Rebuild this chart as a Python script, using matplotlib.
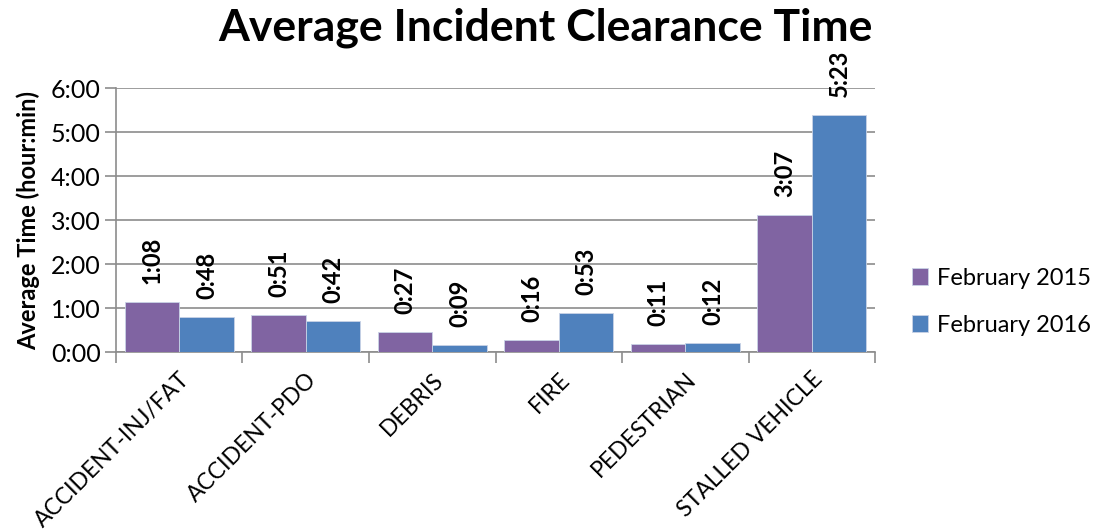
import matplotlib
matplotlib.use('Agg')
import matplotlib.pyplot as plt
import numpy as np

plt.rcParams['font.family'] = ['Lato', 'DejaVu Sans']

categories = ['ACCIDENT-INJ/FAT', 'ACCIDENT-PDO', 'DEBRIS', 'FIRE', 'PEDESTRIAN', 'STALLED VEHICLE']
# minutes
feb_2015 = [68, 51, 27, 16, 11, 187]
feb_2016 = [48, 42, 9, 53, 12, 323]
series_labels = ['February 2015', 'February 2016']
colors = ['#8064A2', '#4F81BD']


def hm(m):
    return f"{int(m) // 60}:{int(m) % 60:02d}"


fig = plt.figure(figsize=(10.97, 5.31), dpi=100)
ax = fig.add_axes([0.1057, 0.337, 0.692, 0.497])

x = np.arange(len(categories))
w = 0.43
for i, (vals, lab, c) in enumerate(zip([feb_2015, feb_2016], series_labels, colors)):
    hours = np.array(vals) / 60.0
    pos = x + (i - 0.5) * w
    ax.bar(pos, hours, width=w, color=c, edgecolor='#c9d3e6', linewidth=0.6,
           label=lab, zorder=3)
    for px, h, m in zip(pos, hours, vals):
        ax.annotate(hm(m), (px, h), xytext=(0, 13), textcoords='offset points',
                    rotation=90, ha='center', va='bottom', fontsize=17,
                    fontweight='bold', annotation_clip=False)

ax.set_xlim(-0.5, len(categories) - 0.5)
ax.set_ylim(0, 6)
ax.set_yticks(range(7))
ax.set_yticklabels([f"{h}:00" for h in range(7)], fontsize=18)
ax.grid(axis='y', color='#8c8c8c', linewidth=1.2, zorder=0)

ax.set_xticks(x)
ax.set_xticklabels(categories, rotation=45, ha='right', rotation_mode='anchor', fontsize=16.5)
ax.tick_params(axis='x', length=0, pad=12)
ax.set_xticks(np.arange(-0.5, len(categories)), minor=True)
ax.tick_params(axis='x', which='minor', length=8, color='#8c8c8c', width=1.2)
ax.tick_params(axis='y', length=8, color='#8c8c8c', width=1.2, pad=3)

for s in ['top', 'right']:
    ax.spines[s].set_visible(False)
for s in ['left', 'bottom']:
    ax.spines[s].set_color('#8c8c8c')
    ax.spines[s].set_linewidth(1.2)

ax.set_ylabel('Average Time (hour:min)', fontsize=17, fontweight='bold', labelpad=8)

fig.suptitle('Average Incident Clearance Time', fontsize=32, fontweight='bold', x=0.497, y=0.985)

ax.legend(loc='center left', bbox_to_anchor=(1.02, 0.19), frameon=False, fontsize=17,
          handlelength=0.7, handleheight=0.7, handletextpad=0.4, labelspacing=1.1)

plt.savefig('out.png', dpi=100)
